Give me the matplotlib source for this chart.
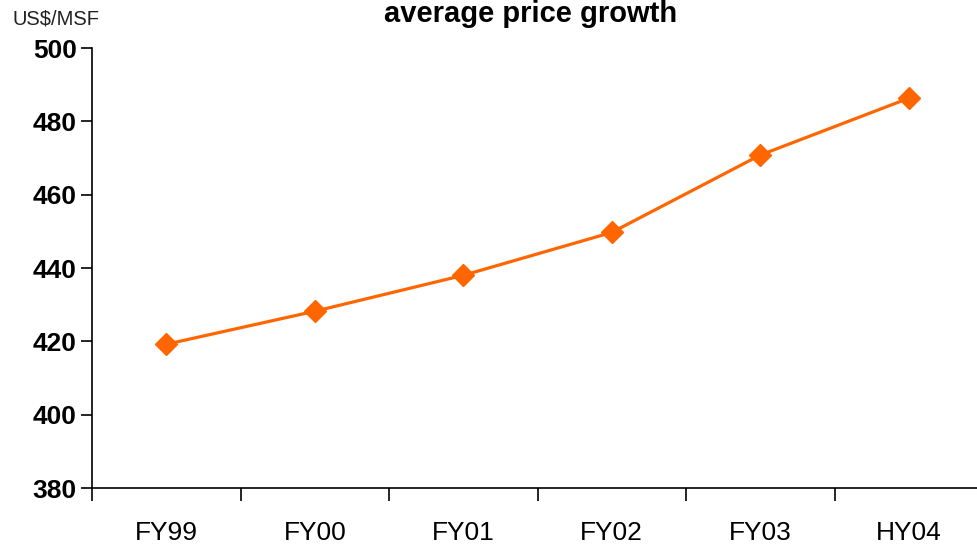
import numpy as np
import matplotlib.pyplot as plt

categories = ["FY99", "FY00", "FY01", "FY02", "FY03", "HY04"]
prices = [419.2, 428.2, 438.0, 449.7, 470.8, 486.3]
y_ticks = [380, 400, 420, 440, 460, 480, 500]

plt.rcParams['font.family'] = ['Liberation Sans', 'DejaVu Sans']

fig = plt.figure(figsize=(9.77, 5.52), dpi=100)
ax = fig.add_axes([92 / 977, 1 - 488 / 552, (983 - 92) / 977, 440 / 552])

x = np.arange(len(categories))
ax.plot(x, prices, color="#FF6600", linewidth=2.3, marker="D", markersize=11.5,
        clip_on=False)

ax.set_xlim(-0.5, len(categories) - 0.5)
ax.set_ylim(380, 500)
ax.set_yticks(y_ticks)
ax.set_yticklabels([str(v) for v in y_ticks], fontsize=19, fontweight="bold")

# category labels centred, tick marks on the boundaries
ax.set_xticks(np.arange(-0.5, len(categories), 1.0))
ax.set_xticklabels([])
ax.set_xticks(x, minor=True)
ax.set_xticklabels(categories, minor=True, fontsize=19)
ax.tick_params(axis="x", which="major", length=9, width=1.2, direction="out")
ax.tick_params(axis="x", which="minor", length=0, pad=24)
ax.tick_params(axis="y", length=8, width=1.2, direction="out", pad=3)

for s in ["top", "right"]:
    ax.spines[s].set_visible(False)
for s in ["left", "bottom"]:
    ax.spines[s].set_linewidth(1.2)

fig.text(531 / 977, 1 - 22 / 552, "average price growth", ha="center",
         va="baseline", fontsize=21, fontweight="bold")
fig.text(12 / 977, 1 - 25 / 552, "US$/MSF", ha="left", va="baseline",
         fontsize=14.5, color="#222222")

fig.savefig("out.png", dpi=100)
